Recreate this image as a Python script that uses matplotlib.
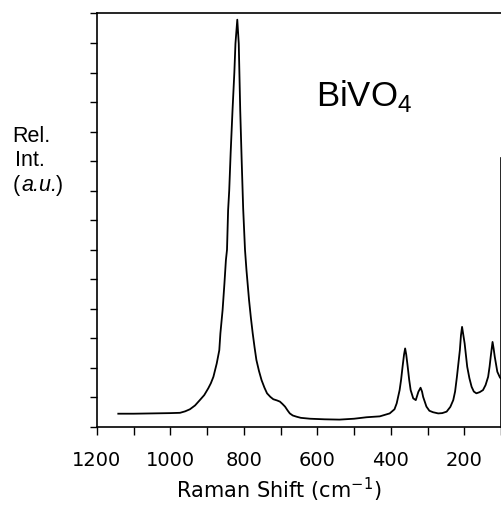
import matplotlib
matplotlib.use("Agg")
import matplotlib.pyplot as plt

# Raman-Spektrum BiVO4
shift = [1142, 1100, 1050, 1000, 974, 960, 947, 933, 920, 908, 897, 890, 883, 874,
         867, 864, 858, 853, 849, 846, 843, 840, 836, 831, 826, 823, 818, 814, 810,
         806, 802, 797, 793, 786, 781, 776, 771, 766, 759, 752, 744, 737, 728, 720,
         710, 702, 695, 688, 681, 675, 667, 657, 645, 620, 580, 540, 500, 466, 430,
         403, 390, 384, 376, 372, 368, 364, 361, 358, 354, 350, 346, 339, 332, 325,
         319, 315, 312, 303, 295, 285, 271, 260, 248, 238, 230, 225, 220, 216, 212,
         209, 206, 203, 199, 192, 186, 180, 174, 167, 158, 149, 142, 135, 131, 128,
         123, 120, 117, 110, 103, 101]
intensity = [0.45, 0.45, 0.46, 0.47, 0.48, 0.53, 0.6, 0.73, 0.91, 1.08, 1.31, 1.48, 1.7, 2.15,
             2.6, 3.17, 3.96, 4.86, 5.65, 6.0, 7.34, 8.0, 9.3, 10.72, 12.0, 12.98, 13.79, 12.98, 10.72,
             9.0, 7.4, 6.0, 5.31, 4.3, 3.7, 3.17, 2.7, 2.27, 1.9, 1.59, 1.33, 1.14, 1.02, 0.94,
             0.9, 0.86, 0.78, 0.69, 0.56, 0.46, 0.39, 0.35, 0.31, 0.28, 0.26, 0.25, 0.28, 0.33, 0.36,
             0.46, 0.6, 0.8, 1.25, 1.6, 2.04, 2.45, 2.66, 2.45, 2.04, 1.6, 1.25, 0.97, 0.91, 1.19,
             1.33, 1.2, 1.02, 0.69, 0.55, 0.5, 0.46, 0.47, 0.52, 0.68, 0.91, 1.2, 1.7, 2.15, 2.6,
             3.1, 3.39, 3.15, 2.83, 2.04, 1.65, 1.36, 1.2, 1.14, 1.18, 1.25, 1.42, 1.7, 2.05, 2.38,
             2.88, 2.65, 2.38, 1.87, 1.68, 1.65]

x_ticks = list(range(1200, 99, -100))
x_labels = ["1200", "", "1000", "", "800", "", "600", "", "400", "", "200", ""]

plt.rcParams['font.family'] = ['Liberation Sans', 'DejaVu Sans']

fig = plt.figure(figsize=(5.02, 5.07), dpi=100)
ax = fig.add_axes([0.1932, 0.1578, 0.8048, 0.8156])

ax.plot(shift, intensity, color="black", lw=1.3)

ax.set_xlim(1200, 100)
ax.set_ylim(0, 14)
ax.set_xticks(x_ticks)
ax.set_xticklabels(x_labels, fontsize=14, family="DejaVu Sans")
ax.set_yticks(range(0, 15))
ax.set_yticklabels([])
ax.tick_params(axis="both", direction="out", length=6, width=1, color="black")
ax.tick_params(axis="x", pad=11)
ax.tick_params(axis="y", length=5)

for s in ["left", "bottom", "top"]:
    ax.spines[s].set_linewidth(1.2)
ax.spines["right"].set_visible(False)
# rechte Achse nur im unteren Teil
ax.axvline(100, ymin=0, ymax=9.1 / 14, color="black", lw=1.2, clip_on=False)

ax.set_xlabel("Raman Shift (cm$^{\\mathregular{-1}}$)", fontsize=15, family="DejaVu Sans")
ax.xaxis.set_label_coords(0.45, -0.118)

ax.text(0.66, 0.8, "BiVO$_\\mathregular{4}$", transform=ax.transAxes, fontsize=25,
        ha="center", va="center")

fig.text(0.025, 0.73, "Rel.", fontsize=15.5, ha="left", va="center")
fig.text(0.03, 0.683, "Int.", fontsize=15.5, ha="left", va="center")
fig.text(0.025, 0.635, "(", fontsize=15.5, ha="left", va="center")
fig.text(0.043, 0.635, "a.u.", fontsize=15.5, ha="left", va="center", style="italic")
fig.text(0.112, 0.635, ")", fontsize=15.5, ha="left", va="center")

fig.savefig("out.png", dpi=100)
